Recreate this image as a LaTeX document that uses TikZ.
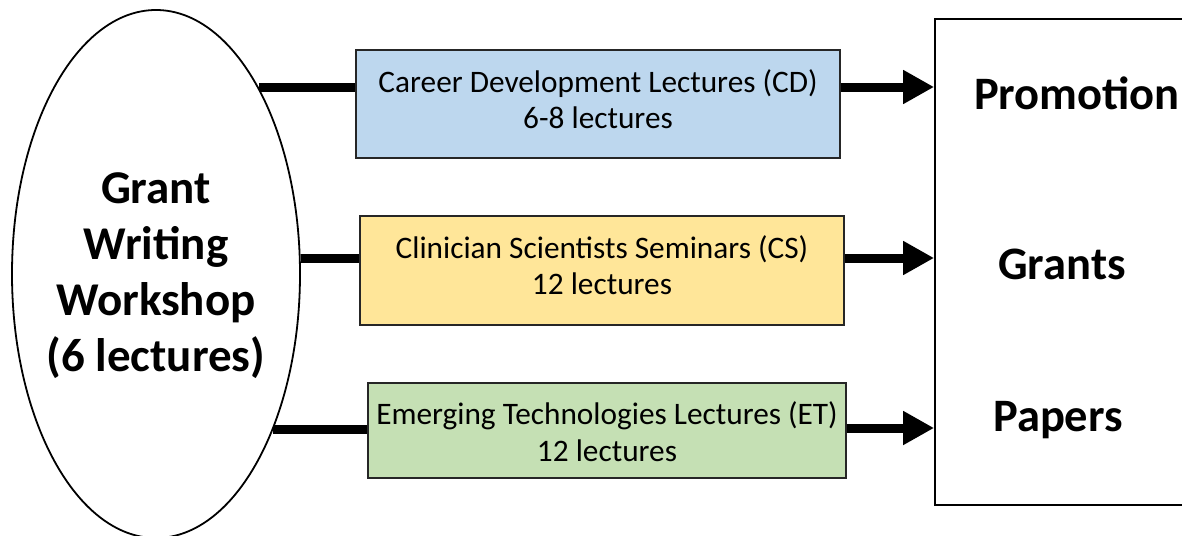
\documentclass[tikz,border=0pt]{standalone}
\usepackage{fontspec}
\setmainfont{Carlito}
\usetikzlibrary{shapes.geometric,arrows.meta}
\definecolor{cdblue}{HTML}{BDD7EE}
\definecolor{csyellow}{HTML}{FFE699}
\definecolor{etgreen}{HTML}{C5E0B4}
\tikzset{
  lecbox/.style={draw=black!85, line width=1.2pt, inner sep=0pt},
  lectext/.style={align=center, inner sep=0pt, font=\fontsize{31.3}{36.5}\selectfont},
  thickline/.style={line width=9pt},
  arr/.style={line width=9pt, -{Triangle[length=31pt,width=32pt]}},
  outtext/.style={font=\fontsize{46.5}{50}\selectfont\bfseries}
}
\begin{document}
\begin{tikzpicture}[x=1pt,y=-1pt]
\useasboundingbox (0,0) rectangle (1182,535);
% workshop ellipse
\node[draw, line width=1.8pt, ellipse, minimum width=288pt, minimum height=528pt, inner sep=0pt] (gw) at (156,274) {};
\node[align=center, font=\fontsize{47}{56}\selectfont\bfseries] (gwtext) at (156,276) {Grant\\Writing\\Workshop\\(6 lectures)};
% lecture boxes
\node[lecbox, fill=cdblue, minimum width=484pt, minimum height=108pt] (cd) at (598,104) {};
\node[lectext] (cdtext) at (598,99) {Career Development Lectures (CD)\\6-8 lectures};
\node[lecbox, fill=csyellow, minimum width=484pt, minimum height=109pt] (cs) at (602,270.5) {};
\node[lectext] (cstext) at (602,265) {Clinician Scientists Seminars (CS)\\12 lectures};
\node[lecbox, fill=etgreen, minimum width=478pt, minimum height=95pt] (et) at (607,430.5) {};
\node[lectext] (ettext) at (607,431.5) {Emerging Technologies Lectures (ET)\\12 lectures};
% results box
\node[draw, line width=1.8pt, minimum width=270pt, minimum height=486pt, inner sep=0pt] (res) at (1070,262) {};
\node[outtext] (prom) at (1077,93) {Promotion};
\node[outtext] (grants) at (1062,264) {Grants};
\node[outtext] (papers) at (1058,420) {Papers};
% row coordinates
\coordinate (q1) at (0,87);
\coordinate (q2) at (0,258);
\coordinate (q3) at (0,428);
% connectors from ellipse to boxes
\draw[thickline] (gw.61.4) -- (gw.61.4 -| cd.west);
\draw[thickline] (gw.6.35) -- (gw.6.35 -| cs.west);
\draw[thickline] (gw.-53.6) -- (gw.-53.6 -| et.west);
% arrows to results
\draw[arr] (q1 -| cd.east) -- (q1 -| res.west);
\draw[arr] (q2 -| cs.east) -- (q2 -| res.west);
\draw[arr] (q3 -| et.east) -- (q3 -| res.west);
\end{tikzpicture}
\end{document}
